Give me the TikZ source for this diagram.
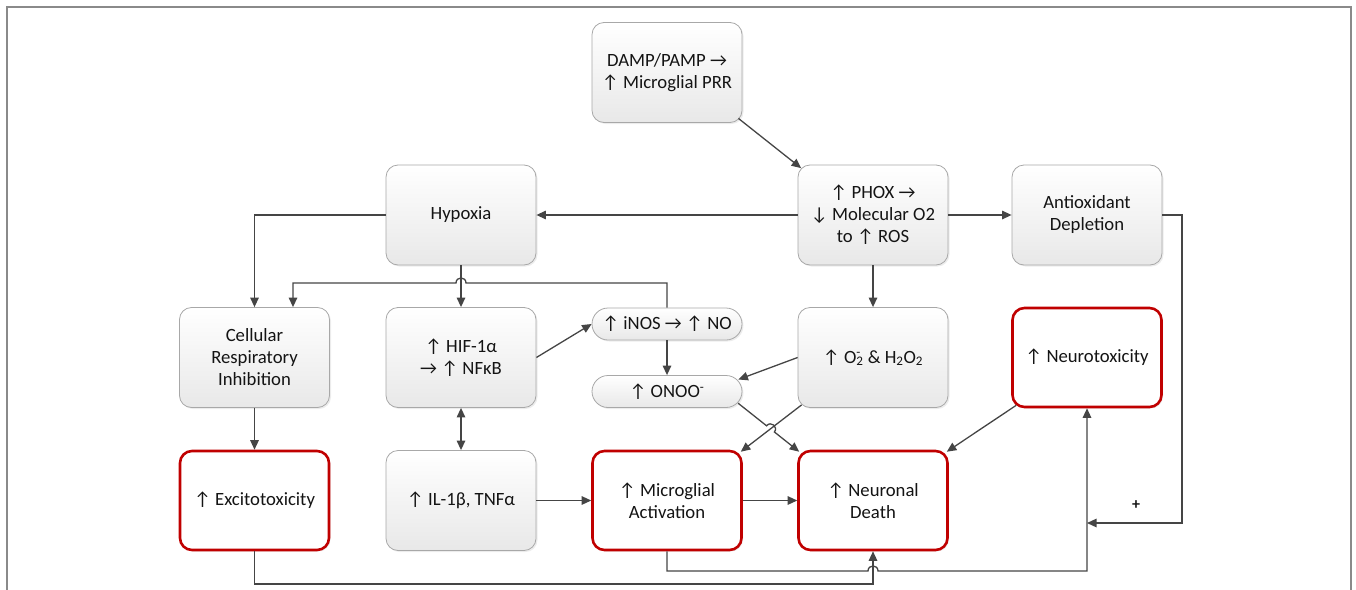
\documentclass[tikz,border=0pt]{standalone}
\usepackage{fontspec}
\setmainfont{Carlito}
\usetikzlibrary{arrows.meta,shadows,calc}
\definecolor{redb}{HTML}{C00000}
\definecolor{lk}{HTML}{454545}
\definecolor{bd}{HTML}{A8A8A8}
\definecolor{fr}{HTML}{8A8A8A}
\newcommand{\myup}{↑}
\newcommand{\mydn}{↓}
\newcommand{\myra}{→}
\begin{document}
\begin{tikzpicture}[x=1pt,y=-1pt,
  every node/.style={font=\fontsize{18.7}{22}\selectfont, align=center, text=black!92},
  gbox/.style={draw=bd, line width=0.8pt, rounded corners=12pt, top color=white, bottom color=black!9,
    minimum width=150pt, minimum height=100pt, inner sep=2pt,
    drop shadow={opacity=0.15,shadow xshift=1.5pt,shadow yshift=-1.5pt}},
  rbox/.style={draw=redb, line width=2.6pt, rounded corners=12pt, fill=white,
    minimum width=149pt, minimum height=99pt, inner sep=2pt,
    drop shadow={opacity=0.15,shadow xshift=1.5pt,shadow yshift=-1.5pt}},
  pill/.style={draw=bd, line width=0.8pt, rounded corners=16pt, top color=white, bottom color=black!9,
    minimum width=150pt, minimum height=32pt, inner sep=1pt,
    drop shadow={opacity=0.15,shadow xshift=1.5pt,shadow yshift=-1.5pt}},
  link/.style={draw=lk, line width=1.3pt, -{Triangle[length=9.5pt,width=8.5pt]}},
]
\useasboundingbox (0,0) rectangle (1356,589);
\clip (0,0) rectangle (1356,589);
\draw[fr, line width=1.2pt] (7,7) rectangle (1351,640);

% nodes
\node[gbox] (damp) at (667,72.5) {DAMP/PAMP \myra\\\myup\ Microglial PRR};
\node[gbox] (phox) at (873,215) {\myup\ PHOX \myra\\\mydn\ Molecular O2\\to \myup\ ROS};
\node[gbox] (anti) at (1087,215) {Antioxidant\\Depletion};
\node[gbox] (hyp) at (461,215) {Hypoxia};
\node[gbox] (cell) at (254.5,357.5) {Cellular\\Respiratory\\Inhibition};
\node[gbox] (hif) at (461,357.5) {\myup\ HIF-1α\\\myra\ \myup\ NFκB};
\node[pill] (inos) at (667,324) {\myup\ iNOS \myra\ \myup\ NO};
\node[pill] (onoo) at (667,391.5) {\myup\ ONOO\textsuperscript{-}};
\node[gbox] (o2) at (873,357.5) {\myup\ O\rlap{\textsuperscript{-}}\textsubscript{2} \& H\textsubscript{2}O\textsubscript{2}};
\node[rbox] (neuro) at (1087,357.5) {\myup\ Neurotoxicity};
\node[rbox] (exc) at (254.5,500.5) {\myup\ Excitotoxicity};
\node[gbox] (il) at (461,500.5) {\myup\ IL-1β, TNFα};
\node[rbox] (mic) at (667,500.5) {\myup\ Microglial\\Activation};
\node[rbox] (nd) at (873,500.5) {\myup\ Neuronal\\Death};
\node[font=\bfseries\fontsize{16}{18}\selectfont] (plus) at (1136,505) {+};

% helper coordinates
\coordinate (j2) at (293,283);
\coordinate (b1) at (254.5,584);
\coordinate (b2) at (667,571);
\coordinate (r1) at (1182,523);
\coordinate (m) at (1087,523);

% connectors
\draw[link] ([shift={(-4pt,4.5pt)}]damp.south east) -- ([shift={(3.5pt,-3.5pt)}]phox.north west);
\draw[link] (phox.west) -- (hyp.east);
\draw[link] (phox.east) -- (anti.west);
\draw[link] (phox.south) -- (o2.north);
\draw[link] (hyp.west) -| (cell.north);
\draw[link] (hyp.south) -- (hif.north);
\draw[link] (inos.north) -- (inos.north |- j2) -- (466,283) .. controls (466,276.3) and (456,276.3) .. (456,283) -- (j2) -- (j2 |- cell.north);
\draw[link] (hif.east) -- (inos.west);
\draw[link] (inos.south) -- (onoo.north);
\draw[link] (o2.west) -- ([shift={(-4pt,12pt)}]onoo.east);
\draw[link] ([shift={(4pt,3pt)}]o2.south west) -- ([shift={(-2pt,-2pt)}]mic.north east);
\draw[link] ([shift={(-4.3pt,-11.7pt)}]onoo.east) -- (766.6,425.8) .. controls (770.7,420.6) and (778.5,426.8) .. (774.4,432.0) -- ([shift={(2pt,-2pt)}]nd.north west);
\draw[link] ([shift={(5pt,3pt)}]neuro.south west) -- ([shift={(-2pt,-2pt)}]nd.north east);
\draw[link,{Triangle[length=9.5pt,width=8.5pt]}-{Triangle[length=9.5pt,width=8.5pt]}] (hif.south) -- (il.north);
\draw[link] (il.east) -- (mic.west);
\draw[link] (mic.east) -- (nd.west);
\draw[link] (cell.south) -- (exc.north);
\draw[link] (exc.south) -- (exc.south |- b1) -| (nd.south);
\draw[link] (mic.south) -- (b2) -- (868,571) .. controls (868,564.3) and (878,564.3) .. (878,571) -| (neuro.south);
\draw[link] (anti.east) -| (r1) -- (m);
\end{tikzpicture}
\end{document}
